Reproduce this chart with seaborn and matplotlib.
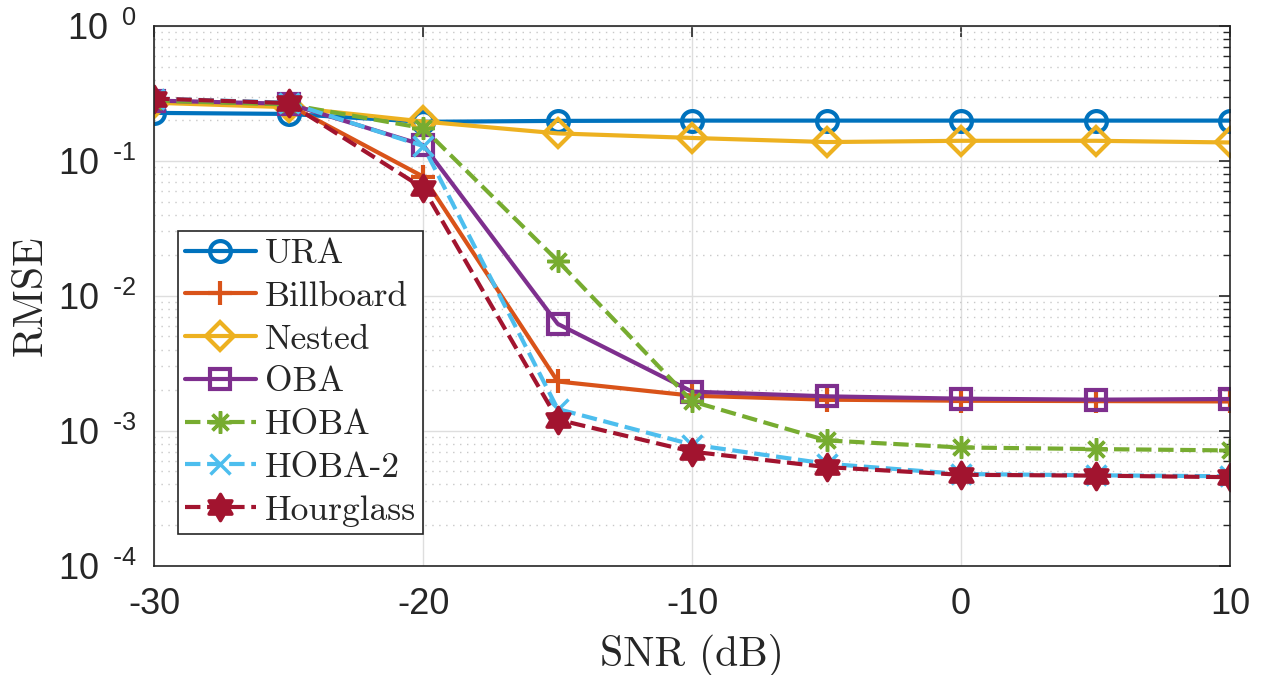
import numpy as np
import pandas as pd
import matplotlib
matplotlib.use("Agg")
import matplotlib.pyplot as plt
import seaborn as sns
from matplotlib.ticker import LogLocator, NullFormatter
from matplotlib.path import Path

# ---------------- data ----------------
snr = [-30, -25, -20, -15, -10, -5, 0, 5, 10]
ura = [0.227, 0.223, 0.195, 0.198, 0.199, 0.199, 0.199, 0.199, 0.199]
billboard = [0.28, 0.26, 0.0765, 0.00232, 0.00182, 0.00170, 0.00167, 0.00166, 0.00165]
nested = [0.27, 0.25, 0.196, 0.16, 0.148, 0.138, 0.141, 0.141, 0.137]
oba = [0.28, 0.265, 0.131, 0.0062, 0.00195, 0.00180, 0.00173, 0.00170, 0.00172]
hoba = [0.28, 0.262, 0.175, 0.0182, 0.00165, 0.000848, 0.000752, 0.000732, 0.000715]
hoba2 = [0.29, 0.27, 0.129, 0.00145, 0.00079, 0.000570, 0.000478, 0.000468, 0.000460]
hourglass = [0.29, 0.268, 0.0628, 0.00121, 0.000700, 0.000538, 0.000472, 0.000465, 0.000453]

names = ["URA", "Billboard", "Nested", "OBA", "HOBA", "HOBA-2", "Hourglass"]
series = [ura, billboard, nested, oba, hoba, hoba2, hourglass]
colors = ["#0072BD", "#D95319", "#EDB120", "#7E2F8E", "#77AC30", "#4DBEEE", "#A2142F"]
styles = ["-", "-", "-", "-", "--", "--", "--"]

yticks = [1e-4, 1e-3, 1e-2, 1e-1, 1e0]
ytick_labels = [r"$\mathregular{10^{\;\;\text{-}4}}$", r"$\mathregular{10^{\;\;\text{-}3}}$",
                r"$\mathregular{10^{\;\;\text{-}2}}$", r"$\mathregular{10^{\;\;\text{-}1}}$",
                r"$\mathregular{10^{\;\;0}}$"]
xticks = [-30, -20, -10, 0, 10]

# hexagram marker (two overlapping triangles)
ang = np.pi / 2 + np.arange(12) * np.pi / 6
rad = np.where(np.arange(12) % 2 == 0, 1.0, 1.0 / np.sqrt(3))
hexverts = np.column_stack([rad * np.cos(ang), rad * np.sin(ang)])
hexagram = Path(np.vstack([hexverts, hexverts[:1]]), closed=True)

markers = ["o", "+", "D", "s", (8, 2, 0), "x", hexagram]
msizes = [15, 17, 14, 14, 16, 15, 19]
filled = [False, False, False, False, True, True, True]

df = pd.DataFrame({"SNR": np.tile(snr, len(names)),
                   "RMSE": np.concatenate(series),
                   "method": np.repeat(names, len(snr))})

sns.set_style("white")
fig = plt.figure(figsize=(12.66, 6.75), dpi=100)
ax = fig.add_axes([154.3 / 1266, 1 - 565.7 / 675, (1230 - 154.3) / 1266, (565.7 - 26) / 675])

for name, c, m, ls, ms, fl in zip(names, colors, markers, styles, msizes, filled):
    sub = df[df["method"] == name]
    kw = dict(markerfacecolor=c if fl else "none", markeredgecolor=c,
              markeredgewidth=3 if not fl else 2.5)
    sns.lineplot(data=sub, x="SNR", y="RMSE", ax=ax, color=c, marker=m, markersize=ms,
                 linestyle=ls, linewidth=3, label=name, **kw)

ax.set_yscale("log")
ax.set_xlim(-30, 10)
ax.set_ylim(1e-4, 1e0)
ax.set_yticks(yticks)
ax.set_yticklabels(ytick_labels)
ax.yaxis.set_minor_locator(LogLocator(base=10, subs=np.arange(2, 10), numticks=20))
ax.yaxis.set_minor_formatter(NullFormatter())
ax.set_xticks(xticks)
ax.set_xticklabels([str(v) for v in xticks])

for lab in ax.get_xticklabels() + ax.get_yticklabels():
    lab.set_fontfamily("Liberation Sans")
    lab.set_fontsize(26)
    lab.set_color("#262626")

ax.tick_params(which="both", direction="in", top=True, right=True, colors="#262626")
ax.tick_params(which="major", length=8, width=1.2)
ax.tick_params(axis="x", which="major", pad=15)
ax.tick_params(axis="y", which="major", pad=13)
ax.tick_params(which="minor", length=5, width=1.0)

ax.grid(True, which="major", color="#dedede", linewidth=1.0, linestyle="-")
ax.grid(True, which="minor", axis="y", color="#c8c8c8", linewidth=1.0, linestyle=(0, (1, 4)))
ax.set_axisbelow(True)
for sp in ax.spines.values():
    sp.set_color("#262626")
    sp.set_linewidth(1.2)

ax.set_xlabel("SNR (dB)", fontfamily="cmr10", fontsize=30, labelpad=9, color="#262626")
ax.set_ylabel("RMSE", fontfamily="cmr10", fontsize=30, labelpad=6, color="#262626")

handles, labels = ax.get_legend_handles_labels()
leg = ax.legend(handles, labels, loc="upper left", bbox_to_anchor=(0.022, 0.62),
                prop={"family": "cmr10", "size": 25.5}, frameon=True, fancybox=False,
                edgecolor="#262626", framealpha=1, handlelength=2.0, labelspacing=0.31,
                handletextpad=0.25, borderpad=0.2, borderaxespad=0)
leg.get_frame().set_linewidth(1.2)

fig.savefig("out.png", dpi=100)
